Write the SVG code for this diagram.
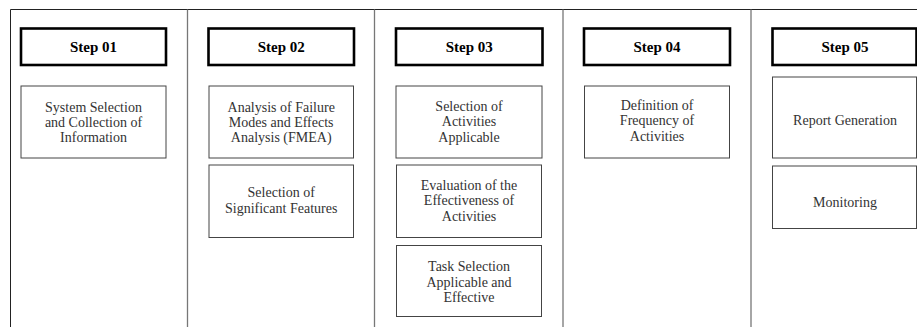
<svg xmlns="http://www.w3.org/2000/svg" width="917" height="327" viewBox="0 0 917 327">
<style>
.frame{stroke:#222;stroke-width:1;fill:none}
.div{stroke:#777;stroke-width:1.3;fill:none}
.hdr{fill:#fff;stroke:#000;stroke-width:2.6}
.box{fill:#fff;stroke:#444;stroke-width:1}
text{font-family:'Liberation Serif','Times New Roman',Times,'DejaVu Serif',serif;text-anchor:middle}
.ht{font-size:15px;font-weight:bold;fill:#000}
.bt{font-size:14px;fill:#333}
</style>
<rect width="917" height="327" fill="#fff"/>
<g id="connectors">
<path class="frame" d="M10.5 327V9.5H917"/>
<path class="div" d="M187.5 9.5V327M374.5 9.5V327M563 9.5V327M751 9.5V327"/>
</g>
<g id="step01">
<rect class="hdr" x="21" y="28.5" width="145" height="36.5"/>
<text class="ht" x="93.5" y="51.5">Step 01</text>
</g>
<g id="step01-box1">
<rect class="box" x="21" y="86" width="145" height="72"/>
<text class="bt" x="93.5" y="111.5">System Selection</text>
<text class="bt" x="93.5" y="126.5">and Collection of</text>
<text class="bt" x="93.5" y="141.5">Information</text>
</g>
<g id="step02">
<rect class="hdr" x="208.5" y="28.5" width="145.5" height="36.5"/>
<text class="ht" x="281.2" y="51.5">Step 02</text>
</g>
<g id="step02-box1">
<rect class="box" x="209" y="86" width="144.5" height="72"/>
<text class="bt" x="281.2" y="111.5">Analysis of Failure</text>
<text class="bt" x="281.2" y="126.5">Modes and Effects</text>
<text class="bt" x="281.2" y="141.5">Analysis (FMEA)</text>
</g>
<g id="step02-box2">
<rect class="box" x="209" y="165" width="144.5" height="72.5"/>
<text class="bt" x="281.2" y="197">Selection of</text>
<text class="bt" x="281.2" y="213">Significant Features</text>
</g>
<g id="step03">
<rect class="hdr" x="396" y="28.5" width="146.5" height="36.5"/>
<text class="ht" x="469.3" y="51.5">Step 03</text>
</g>
<g id="step03-box1">
<rect class="box" x="396" y="86" width="146" height="72"/>
<text class="bt" x="469" y="111">Selection of</text>
<text class="bt" x="469" y="126">Activities</text>
<text class="bt" x="469" y="141.5">Applicable</text>
</g>
<g id="step03-box2">
<rect class="box" x="396.5" y="165" width="145" height="72.5"/>
<text class="bt" x="469" y="189.5">Evaluation of the</text>
<text class="bt" x="469" y="205">Effectiveness of</text>
<text class="bt" x="469" y="221">Activities</text>
</g>
<g id="step03-box3">
<rect class="box" x="396.5" y="245.5" width="145" height="71"/>
<text class="bt" x="469" y="271">Task Selection</text>
<text class="bt" x="469" y="286.5">Applicable and</text>
<text class="bt" x="469" y="302">Effective</text>
</g>
<g id="step04">
<rect class="hdr" x="584" y="28.5" width="146" height="36.5"/>
<text class="ht" x="657" y="51.5">Step 04</text>
</g>
<g id="step04-box1">
<rect class="box" x="584.5" y="86" width="145" height="72"/>
<text class="bt" x="657" y="110">Definition of</text>
<text class="bt" x="657" y="125">Frequency of</text>
<text class="bt" x="657" y="140.5">Activities</text>
</g>
<g id="step05">
<rect class="hdr" x="772.5" y="28.5" width="144" height="36.5"/>
<text class="ht" x="845" y="51.5">Step 05</text>
</g>
<g id="step05-box1">
<rect class="box" x="772.5" y="77" width="144" height="81"/>
<text class="bt" x="845" y="124.5">Report Generation</text>
</g>
<g id="step05-box2">
<rect class="box" x="772.5" y="166" width="144" height="62.5"/>
<text class="bt" x="845" y="206.5">Monitoring</text>
</g>
</svg>
